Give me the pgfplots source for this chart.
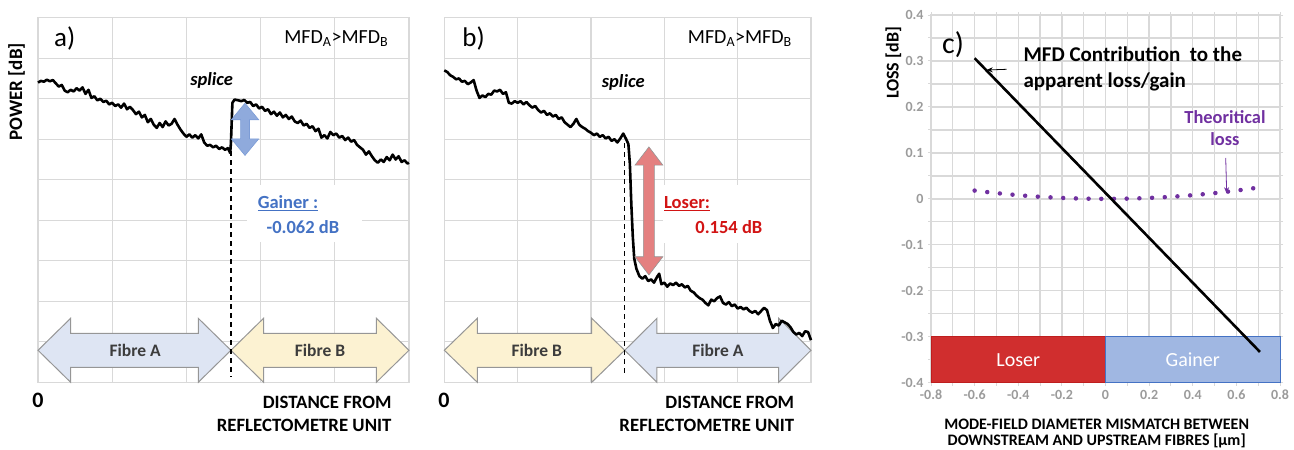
\documentclass[border=0pt]{standalone}
\usepackage{pgfplots}
\pgfplotsset{compat=1.18}
\usepackage{fontspec}
\setmainfont{Carlito}
\usetikzlibrary{arrows.meta}
\definecolor{gridc}{RGB}{217,217,217}
\definecolor{fibA}{RGB}{222,229,243}
\definecolor{fibB}{RGB}{252,242,210}
\definecolor{arrgray}{RGB}{150,150,150}
\definecolor{gainblue}{RGB}{68,114,196}
\definecolor{lightblue}{RGB}{143,170,220}
\definecolor{losered}{RGB}{210,20,20}
\definecolor{salmon}{RGB}{228,128,128}
\definecolor{purp}{RGB}{112,48,160}
\definecolor{boxred}{RGB}{208,46,46}
\definecolor{boxredb}{RGB}{190,30,30}
\definecolor{boxblue}{RGB}{160,183,226}
\definecolor{ticklab}{RGB}{155,155,155}
\definecolor{fibtxt}{RGB}{60,60,60}
\pgfplotsset{
  otdr/.style={scale only axis, height=364.6pt,
    xmin=0,xmax=5,ymin=0,ymax=9,
    xtick={0,...,5}, ytick={0,...,9},
    xticklabels={}, yticklabels={},
    major tick length=0pt,
    grid=major, grid style={gridc, line width=1.3pt},
    axis line style={gridc, line width=1.3pt},
    clip=false},
}
\pgfplotstableread{
x y
0.00 7.40
0.04 7.44
0.08 7.42
0.12 7.47
0.16 7.43
0.20 7.46
0.24 7.38
0.28 7.30
0.32 7.34
0.36 7.20
0.40 7.16
0.44 7.22
0.48 7.18
0.52 7.26
0.56 7.20
0.60 7.28
0.64 7.12
0.68 7.22
0.72 7.02
0.76 7.06
0.80 6.96
0.84 7.00
0.88 6.92
0.92 6.95
0.96 6.86
1.00 6.90
1.04 6.82
1.08 6.86
1.12 6.78
1.16 6.88
1.20 6.74
1.24 6.80
1.28 6.72
1.32 6.62
1.36 6.68
1.40 6.54
1.44 6.60
1.48 6.42
1.52 6.50
1.56 6.36
1.60 6.28
1.64 6.40
1.68 6.30
1.72 6.44
1.76 6.34
1.80 6.38
1.84 6.50
1.88 6.36
1.92 6.24
1.96 6.14
2.00 6.06
2.04 6.12
2.08 6.04
2.12 6.10
2.16 6.02
2.20 6.12
2.24 5.92
2.28 5.84
2.32 5.86
2.36 5.80
2.40 5.84
2.44 5.76
2.48 5.80
2.52 5.74
2.56 5.78
2.59 5.66
2.60 5.90
2.62 6.90
2.65 6.98
2.70 6.96
2.74 6.94
2.78 6.97
2.82 6.90
2.86 6.92
2.90 6.82
2.94 6.86
2.98 6.76
3.02 6.80
3.06 6.70
3.10 6.74
3.14 6.62
3.18 6.68
3.22 6.58
3.26 6.66
3.30 6.54
3.34 6.60
3.38 6.50
3.42 6.56
3.46 6.44
3.50 6.40
3.54 6.46
3.58 6.34
3.62 6.38
3.66 6.28
3.70 6.32
3.74 6.20
3.78 6.26
3.82 6.04
3.86 6.10
3.90 6.02
3.94 6.18
3.98 6.10
4.02 6.14
4.06 6.04
4.10 6.08
4.14 5.98
4.18 6.04
4.22 5.94
4.26 5.98
4.30 5.86
4.34 5.80
4.38 5.74
4.42 5.62
4.46 5.70
4.50 5.58
4.54 5.48
4.58 5.42
4.62 5.50
4.66 5.44
4.70 5.56
4.74 5.48
4.78 5.62
4.82 5.50
4.86 5.58
4.90 5.44
4.94 5.48
4.98 5.40
5.00 5.42
}\traceA
\pgfplotstableread{
x y
0.00 7.70
0.04 7.66
0.08 7.58
0.12 7.54
0.16 7.48
0.20 7.50
0.24 7.42
0.28 7.44
0.32 7.36
0.36 7.40
0.40 7.46
0.44 7.20
0.48 7.02
0.52 7.08
0.56 7.04
0.60 7.12
0.64 7.10
0.68 7.20
0.72 7.18
0.76 7.22
0.80 7.12
0.84 7.16
0.88 6.90
0.92 6.88
0.96 6.94
1.00 6.90
1.04 6.94
1.08 6.86
1.12 6.92
1.16 6.84
1.20 6.78
1.24 6.82
1.28 6.72
1.32 6.66
1.36 6.70
1.40 6.60
1.44 6.64
1.48 6.56
1.52 6.60
1.56 6.50
1.60 6.54
1.64 6.42
1.68 6.36
1.72 6.30
1.76 6.38
1.80 6.50
1.84 6.36
1.88 6.30
1.92 6.26
1.96 6.20
2.00 6.16
2.04 6.10
2.08 6.14
2.12 6.06
2.16 6.10
2.20 6.02
2.24 6.06
2.28 5.96
2.32 6.00
2.36 5.92
2.40 6.02
2.44 6.14
2.48 6.00
2.51 5.88
2.53 5.40
2.55 4.40
2.57 3.60
2.59 3.05
2.62 2.80
2.66 2.62
2.70 2.56
2.74 2.62
2.78 2.50
2.82 2.54
2.86 2.46
2.90 2.60
2.93 2.68
2.96 2.42
3.00 2.46
3.04 2.36
3.08 2.44
3.12 2.40
3.16 2.46
3.20 2.38
3.24 2.42
3.28 2.34
3.32 2.38
3.36 2.26
3.40 2.22
3.44 2.14
3.48 2.08
3.52 2.04
3.56 1.96
3.60 1.90
3.64 2.04
3.68 2.00
3.72 2.08
3.76 2.12
3.80 1.96
3.84 1.92
3.88 1.98
3.92 1.88
3.96 1.92
4.00 1.82
4.04 1.86
4.08 1.80
4.12 1.84
4.16 1.76
4.20 1.72
4.24 1.76
4.28 1.68
4.32 1.76
4.36 1.84
4.40 1.78
4.44 1.52
4.48 1.34
4.52 1.44
4.56 1.40
4.60 1.52
4.64 1.48
4.68 1.44
4.72 1.36
4.76 1.24
4.80 1.18
4.84 1.22
4.88 1.14
4.92 1.26
4.96 1.24
5.00 1.04
}\traceB
\begin{document}
\begin{tikzpicture}[x=1pt,y=1pt]
\useasboundingbox (0,0) rectangle (1294,450);
% ---------- panel a
\begin{axis}[otdr, at={(38pt,67.7pt)}, anchor=south west, width=371pt]
\draw[arrgray, line width=1pt, fill=fibA] (0,0.79) -- (0.44,1.58) -- (0.44,1.21) -- (2.16,1.21) -- (2.16,1.58) -- (2.60,0.79) -- (2.16,0) -- (2.16,0.37) -- (0.44,0.37) -- (0.44,0) -- cycle;
\draw[arrgray, line width=1pt, fill=fibB] (2.60,0.79) -- (3.04,1.58) -- (3.04,1.21) -- (4.56,1.21) -- (4.56,1.58) -- (5.0,0.79) -- (4.56,0) -- (4.56,0.37) -- (3.04,0.37) -- (3.04,0) -- cycle;
\node[font=\fontsize{17.5}{20}\selectfont\bfseries, text=fibtxt] at (1.31,0.79) {Fibre A};
\node[font=\fontsize{17.5}{20}\selectfont\bfseries, text=fibtxt] at (3.80,0.79) {Fibre B};
\fill[white] (2.81,3.46) rectangle (4.36,4.87);
\draw[black, line width=1.3pt, dash pattern=on 5pt off 4pt] (2.60,5.70) -- (2.60,0.14);
\addplot[black, line width=2.6pt, line join=round] table {\traceA};
\draw[gainblue!70!white, line width=0.6pt, fill=lightblue] (2.79,6.89) -- (2.975,6.48) -- (2.85,6.48) -- (2.85,6.01) -- (2.975,6.01) -- (2.79,5.60) -- (2.605,6.01) -- (2.73,6.01) -- (2.73,6.48) -- (2.605,6.48) -- cycle;
\node[font=\fontsize{27}{30}\selectfont] at (0.36,8.49) {a)};
\node[font=\fontsize{20}{23}\selectfont] at (4.02,8.49) {MFD\textsubscript{A}>MFD\textsubscript{B}};
\node[font=\fontsize{18.5}{21}\selectfont\bfseries\itshape] at (2.34,7.45) {splice};
\node[font=\fontsize{18.5}{21}\selectfont\bfseries, text=gainblue] at (3.37,4.42) {\underline{Gainer :}};
\node[font=\fontsize{18.5}{21}\selectfont\bfseries, text=gainblue] at (3.57,3.84) {-0.062 dB};
\end{axis}
% ---------- panel b
\begin{axis}[otdr, at={(444.3pt,67.7pt)}, anchor=south west, width=366.7pt]
\draw[arrgray, line width=1pt, fill=fibB] (0,0.79) -- (0.45,1.58) -- (0.45,1.21) -- (2.01,1.21) -- (2.01,1.58) -- (2.46,0.79) -- (2.01,0) -- (2.01,0.37) -- (0.45,0.37) -- (0.45,0) -- cycle;
\draw[arrgray, line width=1pt, fill=fibA] (2.46,0.79) -- (2.90,1.58) -- (2.90,1.21) -- (4.56,1.21) -- (4.56,1.58) -- (5.0,0.79) -- (4.56,0) -- (4.56,0.37) -- (2.90,0.37) -- (2.90,0) -- cycle;
\node[font=\fontsize{17.5}{20}\selectfont\bfseries, text=fibtxt] at (1.26,0.79) {Fibre B};
\node[font=\fontsize{17.5}{20}\selectfont\bfseries, text=fibtxt] at (3.73,0.79) {Fibre A};
\fill[white] (2.98,3.44) rectangle (4.98,4.87);
\draw[black, line width=1.3pt, dash pattern=on 5pt off 4pt] (2.46,5.90) -- (2.46,0.14);
\addplot[black, line width=2.6pt, line join=round] table {\traceB};
\draw[arrgray, line width=0.6pt, fill=salmon] (2.79,5.81) -- (2.98,5.36) -- (2.865,5.36) -- (2.865,3.10) -- (2.98,3.10) -- (2.79,2.65) -- (2.60,3.10) -- (2.715,3.10) -- (2.715,5.36) -- (2.60,5.36) -- cycle;
\node[font=\fontsize{27}{30}\selectfont] at (0.40,8.49) {b)};
\node[font=\fontsize{20}{23}\selectfont] at (4.03,8.49) {MFD\textsubscript{A}>MFD\textsubscript{B}};
\node[font=\fontsize{18.5}{21}\selectfont\bfseries\itshape] at (2.44,7.41) {splice};
\node[font=\fontsize{18.5}{21}\selectfont\bfseries, text=losered] at (3.31,4.42) {\underline{Loser:}};
\node[font=\fontsize{18.5}{21}\selectfont\bfseries, text=losered] at (3.88,3.84) {0.154 dB};
\end{axis}
% ---------- labels a/b
\node[rotate=90, font=\fontsize{19}{22}\selectfont\bfseries] at (16.7,358.3) {POWER [dB]};
\node[font=\fontsize{22}{25}\selectfont\bfseries] at (38,50) {0};
\node[font=\fontsize{18.8}{22}\selectfont\bfseries, anchor=east] at (395,48) {DISTANCE FROM};
\node[font=\fontsize{18.8}{22}\selectfont\bfseries, anchor=east] at (395,25) {REFLECTOMETRE UNIT};
\node[font=\fontsize{22}{25}\selectfont\bfseries] at (444,50) {0};
\node[font=\fontsize{18.8}{22}\selectfont\bfseries, anchor=east] at (797.7,48) {DISTANCE FROM};
\node[font=\fontsize{18.8}{22}\selectfont\bfseries, anchor=east] at (797.7,25) {REFLECTOMETRE UNIT};
% ---------- panel c
\begin{axis}[scale only axis, at={(931pt,67.3pt)}, anchor=south west,
  width=349pt, height=367.7pt,
  xmin=-0.8, xmax=0.8, ymin=-0.4, ymax=0.4,
  xtick={-0.8,-0.6,...,0.8}, ytick={-0.4,-0.3,...,0.4},
  minor xtick={-0.7,-0.5,...,0.7}, minor ytick={-0.35,-0.25,...,0.35},
  grid=both, grid style={gridc, line width=1.3pt}, minor grid style={gridc, line width=1.3pt},
  axis line style={gridc, line width=1.3pt},
  tick align=outside, major tick length=3pt, minor tick length=3pt,
  tick style={gridc, line width=1pt},
  /pgf/number format/assume math mode=true,
  /pgf/number format/fixed,
  ticklabel style={font=\fontsize{14}{16}\selectfont\bfseries, text=ticklab},
  yticklabel style={xshift=-1pt},
  xticklabel style={yshift=-1pt},
  clip=false]
\draw[boxredb, line width=1pt, fill=boxred] (-0.8,-0.4) rectangle (0,-0.3);
\draw[gainblue, line width=1pt, fill=boxblue] (0,-0.4) rectangle (0.8,-0.3);
\node[font=\fontsize{20}{23}\selectfont, text=white] at (-0.4,-0.35) {Loser};
\node[font=\fontsize{20}{23}\selectfont, text=white] at (0.4,-0.35) {Gainer};
\addplot[purp, line width=4.5pt, line cap=round, dash pattern=on 0pt off 12.7pt, smooth] coordinates {
(-0.6,0.018)(-0.5,0.0125)(-0.4,0.008)(-0.3,0.0045)(-0.2,0.002)(-0.1,0.0005)(0,0)
(0.1,0.0005)(0.2,0.002)(0.3,0.0045)(0.4,0.008)(0.5,0.0125)(0.6,0.018)(0.7,0.0245)};
\addplot[black, line width=2.6pt] coordinates {(-0.6,0.306)(0.708,-0.333)};
\node[font=\fontsize{30}{34}\selectfont] at (-0.699,0.335) {c)};
\end{axis}
\node[font=\fontsize{21}{24}\selectfont\bfseries, anchor=base west] at (1020,388.3) {MFD Contribution\ \ to the};
\node[font=\fontsize{21}{24}\selectfont\bfseries, anchor=base west] at (1020,362.7) {apparent loss/gain};
\draw[black, line width=0.8pt, -{Stealth[length=6pt,width=5pt]}] (1006.7,380.7) -- (986.7,380);
\node[font=\fontsize{18.4}{21}\selectfont\bfseries, text=purp, anchor=base] at (1225,326.7) {Theoritical};
\node[font=\fontsize{18.4}{21}\selectfont\bfseries, text=purp, anchor=base] at (1225,304) {loss};
\draw[purp, line width=0.8pt, -{Stealth[length=6pt,width=5pt]}] (1225.7,292) -- (1226.7,256.7);
\node[rotate=90, font=\fontsize{18}{21}\selectfont\bfseries] at (893.3,387) {LOSS [dB]};
\node[font=\fontsize{16}{19}\selectfont\bfseries] at (1096.7,25.5) {MODE-FIELD DIAMETER MISMATCH BETWEEN};
\node[font=\fontsize{16}{19}\selectfont\bfseries] at (1096.7,9) {DOWNSTREAM AND UPSTREAM FIBRES [µm]};
\end{tikzpicture}
\end{document}
